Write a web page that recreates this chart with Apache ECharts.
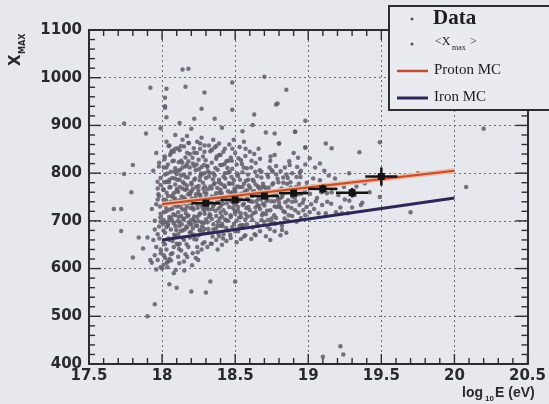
<!DOCTYPE html>
<html><head><meta charset="utf-8">
<script src="https://cdn.jsdelivr.net/npm/echarts@6/dist/echarts.min.js"></script>
<style>html,body{margin:0;padding:0;background:#e6e8ee;}#c{width:549px;height:404px;}</style>
</head><body><div id="c"></div><script>
// Axis ranges [min, max, major interval, minor step]
const xRange = [17.5, 20.5, 0.5, 0.1];
const yRange = [400, 1100, 100, 20];

// Scatter "Data" points [log10E, Xmax]
const dataPoints = [
[17.93,612],[17.95,628],[17.96,645],[17.94,660],[17.97,672],[17.98,688],[17.95,700],[17.99,715],[17.96,735],[17.98,752],[17.97,768],[17.99,790],[17.94,805],[17.98,822],[17.96,598],[17.99,603],[17.97,618],[17.99,640],[17.95,682],[17.99,698],[17.93,725],[17.97,745],[17.99,775],[17.96,842],
[18.01,608],[18.02,622],[18.04,615],[18.06,630],[18.03,640],[18.08,645],[18.01,655],[18.05,660],[18.09,668],[18.02,675],[18.06,682],[18.04,690],[18.08,695],[18.01,702],[18.05,708],[18.09,712],[18.03,720],[18.07,726],[18.02,733],[18.06,740],[18.09,746],[18.04,752],[18.08,758],[18.01,765],[18.05,770],[18.09,776],[18.03,782],[18.07,790],[18.02,797],[18.06,803],[18.09,810],[18.04,818],[18.08,826],[18.02,835],[18.06,842],[18.09,851],[18.05,858],[18.03,866],[18.07,632],[18.1,652],[18.03,687],[18.07,700],[18.1,730],[18.01,745],[18.05,786],[18.1,798],[18.03,812],[18.08,845],[18.05,620],[18.01,680],
[18.11,625],[18.13,638],[18.16,630],[18.18,645],[18.12,652],[18.15,660],[18.19,665],[18.11,672],[18.14,680],[18.17,686],[18.2,692],[18.12,698],[18.15,705],[18.18,711],[18.11,718],[18.14,724],[18.17,730],[18.2,737],[18.12,743],[18.15,749],[18.19,755],[18.11,761],[18.14,768],[18.17,774],[18.2,780],[18.12,786],[18.16,792],[18.19,799],[18.11,805],[18.14,812],[18.17,818],[18.13,826],[18.16,833],[18.19,840],[18.12,848],[18.15,856],[18.18,863],[18.14,870],[18.17,878],[18.11,650],[18.19,676],[18.13,710],[18.16,745],[18.2,762],[18.13,795],[18.18,825],[18.15,615],[18.2,702],
[18.21,632],[18.24,645],[18.27,640],[18.29,655],[18.22,662],[18.25,670],[18.28,676],[18.21,684],[18.24,690],[18.27,697],[18.3,703],[18.22,709],[18.26,716],[18.29,722],[18.21,728],[18.24,735],[18.28,741],[18.23,748],[18.26,754],[18.29,760],[18.21,767],[18.25,773],[18.28,780],[18.22,786],[18.26,793],[18.29,800],[18.23,806],[18.27,813],[18.21,820],[18.25,828],[18.28,835],[18.22,843],[18.26,851],[18.29,858],[18.24,866],[18.27,874],[18.23,690],[18.3,730],[18.25,757],[18.3,790],[18.22,815],[18.26,680],[18.29,845],[18.23,622],
[18.31,645],[18.34,652],[18.37,660],[18.39,668],[18.32,675],[18.35,682],[18.38,690],[18.31,697],[18.34,704],[18.37,710],[18.4,717],[18.32,724],[18.35,731],[18.38,738],[18.31,744],[18.34,751],[18.37,758],[18.4,765],[18.33,772],[18.36,779],[18.39,786],[18.32,793],[18.35,800],[18.38,807],[18.31,815],[18.34,822],[18.37,830],[18.4,838],[18.33,846],[18.36,854],[18.39,862],[18.35,870],[18.38,640],[18.33,712],[18.39,745],[18.36,795],[18.32,858],[18.4,690],
[18.41,650],[18.44,658],[18.47,664],[18.42,672],[18.45,680],[18.48,687],[18.41,694],[18.44,701],[18.47,708],[18.5,715],[18.42,722],[18.46,729],[18.49,736],[18.41,743],[18.44,750],[18.47,757],[18.5,764],[18.43,771],[18.46,778],[18.49,786],[18.42,793],[18.45,801],[18.48,809],[18.41,817],[18.44,825],[18.47,833],[18.5,842],[18.43,851],[18.46,860],[18.49,870],[18.45,700],[18.48,760],[18.43,800],[18.5,678],
[18.51,655],[18.54,662],[18.57,670],[18.52,678],[18.55,686],[18.58,693],[18.51,700],[18.54,708],[18.57,715],[18.6,722],[18.52,729],[18.56,736],[18.59,743],[18.51,750],[18.54,757],[18.58,764],[18.53,771],[18.56,778],[18.59,786],[18.52,794],[18.55,802],[18.58,810],[18.51,818],[18.54,827],[18.57,836],[18.6,845],[18.53,855],[18.56,866],[18.58,748],[18.53,690],
[18.61,662],[18.64,670],[18.67,678],[18.62,686],[18.65,694],[18.68,702],[18.61,710],[18.64,718],[18.67,725],[18.7,732],[18.62,740],[18.66,747],[18.69,755],[18.63,762],[18.66,770],[18.69,778],[18.62,786],[18.65,794],[18.68,803],[18.61,812],[18.64,821],[18.67,830],[18.63,840],[18.66,851],[18.69,716],[18.64,776],
[18.71,668],[18.74,660],[18.77,678],[18.72,688],[18.75,697],[18.78,706],[18.71,714],[18.74,722],[18.77,730],[18.8,738],[18.72,746],[18.76,754],[18.79,762],[18.73,770],[18.76,779],[18.79,788],[18.72,797],[18.75,806],[18.78,815],[18.74,826],[18.77,838],[18.8,862],
[18.81,670],[18.85,675],[18.82,690],[18.86,700],[18.89,710],[18.83,720],[18.86,730],[18.89,740],[18.82,750],[18.85,760],[18.88,770],[18.83,780],[18.86,790],[18.89,800],[18.84,812],[18.87,825],[18.9,842],[18.84,718],
[18.92,698],[18.95,706],[18.98,712],[18.91,722],[18.94,733],[18.97,745],[18.93,756],[18.96,768],[18.99,780],[18.92,792],[18.95,805],[18.98,818],[18.93,832],[18.98,854],[18.91,887],
[19.01,718],[19.04,725],[19.07,716],[19.02,735],[19.06,748],[19.09,760],[19.03,772],[19.08,785],[19.01,831],[19.08,820],[19.12,716],[19.13,740],[19.16,760],[19.19,718],[19.14,795],[19.12,862],[19.16,852],[19.18,775],[19.11,805],
[19.23,716],[19.27,716],[19.25,745],[19.3,728],[19.36,733],[19.33,772],[19.28,800],[19.35,844],[19.42,760],[19.49,750],[19.45,790],[19.22,728],[19.37,738],
[19.49,865],[19.7,718],[19.75,800],[20.08,771],[20.2,893],[19.22,437],[19.24,420],[19.1,415],
[17.67,725],[17.72,725],[17.79,760],[17.72,679],[17.84,665],[17.9,665],[17.87,642],[17.8,623],[17.92,618],[17.74,798],[17.8,817],[17.89,883],[17.74,904],[17.99,894],[18.02,940],[18.03,917],[18.22,914],[18.2,893],[18.36,914],
[17.95,525],[17.9,500],[18.05,567],[18.08,590],[18.2,552],[18.3,550],[18.33,573],[18.5,573],[18.1,560],[18.0,600],
[18.03,977],[17.92,979],[18.02,958],[18.02,937],[18.16,981],[18.14,1017],[18.18,1019],[18.29,969],[18.48,990],[18.7,1002],[18.78,944],[18.63,923],[18.09,880],[18.85,975],[18.79,946],[18.91,887],[18.77,883],[18.8,862],[18.98,910],[18.98,854],
[18.013,718],[18.027,743],[18.041,694],[18.058,771],[18.072,658],[18.086,803],[18.094,737],[18.016,829],[18.033,612],[18.047,781],[18.062,706],[18.078,749],[18.091,689],[18.008,766],[17.988,707],[17.974,756],[17.982,663],[17.991,632],[17.969,782],[17.978,814],[17.986,730],[18.019,651],[18.036,799],[18.053,724],[18.067,847],[18.083,671],[18.098,762],[18.024,697],[18.044,857],[18.069,737],
[18.107,733],[18.118,689],[18.124,807],[18.133,751],[18.141,664],[18.152,778],[18.163,716],[18.171,843],[18.182,697],[18.193,759],[18.104,786],[18.116,641],[18.127,729],[18.138,822],[18.146,703],[18.157,765],[18.168,651],[18.176,791],[18.187,738],[18.198,676],[18.109,852],[18.121,771],[18.135,693],[18.149,737],[18.161,814],[18.173,709],[18.184,863],[18.195,727],[18.113,708],[18.154,682],
[18.204,747],[18.213,703],[18.226,789],[18.235,661],[18.243,727],[18.252,808],[18.264,744],[18.273,688],[18.282,768],[18.291,715],[18.208,832],[18.219,671],[18.231,756],[18.247,699],[18.258,785],[18.269,732],[18.277,652],[18.286,817],[18.297,749],[18.215,724],[18.238,842],[18.255,713],[18.272,797],[18.289,683],[18.233,771],[18.261,862],[18.244,634],[18.281,739],
[18.305,728],[18.316,683],[18.324,801],[18.337,742],[18.345,667],[18.353,776],[18.366,721],[18.374,835],[18.382,698],[18.393,759],[18.309,813],[18.321,708],[18.333,652],[18.348,787],[18.357,735],[18.369,684],[18.378,769],[18.387,726],[18.398,817],[18.312,766],[18.341,849],[18.362,751],[18.384,674],[18.328,739],
[18.402,731],[18.414,689],[18.425,774],[18.436,716],[18.447,811],[18.455,746],[18.466,671],[18.474,792],[18.486,727],[18.495,768],[18.408,758],[18.419,845],[18.431,703],[18.443,737],[18.458,779],[18.469,712],[18.481,851],[18.492,694],[18.417,663],[18.452,826],
[18.505,736],[18.516,772],[18.527,707],[18.538,748],[18.546,819],[18.557,691],[18.565,761],[18.576,727],[18.588,797],[18.596,742],[18.512,682],[18.533,786],[18.552,733],[18.571,851],[18.584,709],[18.523,831],[18.561,667],[18.593,774],
[18.606,741],[18.618,702],[18.627,783],[18.639,728],[18.648,757],[18.657,689],[18.668,806],[18.677,745],[18.688,771],[18.697,698],[18.612,826],[18.633,672],[18.652,733],[18.672,764],[18.691,736],
[18.705,749],[18.718,721],[18.726,792],[18.737,683],[18.746,741],[18.758,803],[18.767,712],[18.778,758],[18.786,729],[18.796,781],[18.713,767],[18.742,835],[18.773,694],
[18.806,747],[18.814,727],[18.829,791],[18.838,705],[18.847,765],[18.862,743],[18.873,817],[18.884,727],[18.893,761],[18.821,681],[18.856,778],
[18.907,749],[18.918,771],[18.933,717],[18.947,792],[18.962,738],[18.977,761],[18.988,729],[18.924,813],
[19.012,757],[19.034,789],[19.052,741],[19.073,770],[19.095,733],[19.047,812],[19.128,758],[19.157,736],[19.183,789],[19.206,754],[19.244,771],[19.281,742],[19.318,754],[19.387,779],
[18.012,628],[18.037,603],[18.061,617],[18.118,611],[18.172,624],[18.247,618],[18.152,596],[18.205,607],[18.093,597],
[18.41,895],[18.55,888],[18.62,901],[18.48,933],[18.71,885],[18.12,905],[18.27,935],
[18.006,694],[18.018,781],[18.029,726],[18.043,663],[18.055,838],[18.064,752],[18.077,714],[18.088,789],[18.097,681],[18.011,812],[18.031,759],[18.049,702],[18.071,825],[18.084,734],
[18.102,767],[18.114,823],[18.126,679],[18.137,741],[18.148,797],[18.159,724],[18.166,688],[18.178,756],[18.189,812],[18.197,741],[18.106,699],[18.129,857],[18.143,781],[18.169,766],[18.191,694],
[18.202,776],[18.211,739],[18.223,698],[18.236,818],[18.248,764],[18.257,681],[18.266,799],[18.279,726],[18.293,772],[18.217,852],[18.241,708],[18.262,752],[18.284,695],[18.298,827],
[18.303,757],[18.314,804],[18.326,714],[18.339,768],[18.351,693],[18.364,811],[18.376,743],[18.389,781],[18.395,705],[18.318,739],[18.343,725],[18.371,857],[18.391,838],
[18.404,777],[18.416,736],[18.428,819],[18.439,685],[18.451,762],[18.462,803],[18.473,741],[18.484,778],[18.497,721],[18.411,709],[18.433,789],[18.477,826],
[18.503,758],[18.514,799],[18.526,742],[18.537,716],[18.549,771],[18.558,812],[18.569,703],[18.581,756],[18.591,729],[18.519,721],[18.543,691],[18.574,784],
[18.603,769],[18.615,752],[18.624,716],[18.637,803],[18.646,741],[18.658,772],[18.663,731],[18.679,791],[18.694,757],[18.621,761],[18.684,712],
[18.702,771],[18.715,741],[18.729,763],[18.735,812],[18.749,705],[18.755,776],[18.768,741],[18.781,797],[18.792,746],[18.724,702],
[18.803,731],[18.817,768],[18.826,755],[18.843,739],[18.852,797],[18.867,712],[18.878,781],[18.891,751],[18.811,804],
[18.904,767],[18.914,741],[18.936,778],[18.951,757],[18.966,722],[18.984,771],[18.942,801]
];

// <Xmax> binned means
const meanX    = [18.3, 18.5, 18.7, 18.9, 19.1, 19.3, 19.5];
const meanY    = [737, 744, 752, 758, 767, 759, 793];
const meanXerr = [0.1, 0.1, 0.1, 0.1, 0.1, 0.11, 0.11];
const meanYerr = [5, 5, 6, 7, 9, 10, 19];

// Monte Carlo predictions
const protonMC = [[18, 735], [20, 805]];
const ironMC   = [[18, 660], [20, 748]];

const meanData = meanX.map((x, i) => [x, meanY[i], meanXerr[i], meanYerr[i]]);

const axisColor = '#2e2e30';
const labelFont = {color: '#2a2a2c', fontWeight: 'bold', fontSize: 15, fontFamily: 'DejaVu Sans, Liberation Sans, sans-serif'};

function mkAxis(extra) {
  return Object.assign({
    type: 'value',
    axisLine: {show: true, onZero: false, lineStyle: {color: axisColor, width: 2}},
    axisTick: {show: false},
    minorTick: {show: false}
  }, extra);
}
const gridLine = {show: true, lineStyle: {color: '#5a5a60', type: [2, 3], width: 1, opacity: 0.85}};

// frame ticks (ROOT style, pointing inward on all four sides), placed through the axes' scales
function frameTicks(params, api) {
  const ch = [];
  const MAJ = 10, MIN = 6;
  const st = {stroke: axisColor, lineWidth: 1.4};
  const nx = Math.round((xRange[1] - xRange[0]) / xRange[3]);
  for (let i = 0; i <= nx; i++) {
    const v = xRange[0] + i * xRange[3];
    const len = (i % Math.round(xRange[2] / xRange[3]) === 0) ? MAJ : MIN;
    const b = api.coord([v, yRange[0]]), t = api.coord([v, yRange[1]]);
    ch.push({type: 'line', shape: {x1: b[0], y1: b[1], x2: b[0], y2: b[1] - len}, style: st});
    ch.push({type: 'line', shape: {x1: t[0], y1: t[1], x2: t[0], y2: t[1] + len}, style: st});
  }
  const ny = Math.round((yRange[1] - yRange[0]) / yRange[3]);
  for (let i = 0; i <= ny; i++) {
    const v = yRange[0] + i * yRange[3];
    const len = (i % Math.round(yRange[2] / yRange[3]) === 0) ? MAJ + 2 : MIN;
    const l = api.coord([xRange[0], v]), r = api.coord([xRange[1], v]);
    ch.push({type: 'line', shape: {x1: l[0], y1: l[1], x2: l[0] + len, y2: l[1]}, style: st});
    ch.push({type: 'line', shape: {x1: r[0], y1: r[1], x2: r[0] - len, y2: r[1]}, style: st});
  }
  return {type: 'group', children: ch};
}

const chart = echarts.init(document.getElementById('c'), null, {renderer: 'canvas'});
chart.setOption({
  backgroundColor: '#e6e8ee',
  animation: false,
  grid: {left: 89, right: 14, top: 30, bottom: 40},
  xAxis: [
    mkAxis({min: xRange[0], max: xRange[1], interval: xRange[2], position: 'bottom',
      axisLabel: Object.assign({margin: 5, formatter: v => String(v)}, labelFont), splitLine: gridLine}),
    mkAxis({min: xRange[0], max: xRange[1], interval: xRange[2], position: 'top',
      axisLabel: {show: false}, splitLine: {show: false}})
  ],
  yAxis: [
    mkAxis({min: yRange[0], max: yRange[1], interval: yRange[2], position: 'left',
      axisLabel: Object.assign({margin: 7, formatter: v => String(v)}, labelFont), splitLine: gridLine}),
    mkAxis({min: yRange[0], max: yRange[1], interval: yRange[2], position: 'right',
      axisLabel: {show: false}, splitLine: {show: false}})
  ],
  series: [
    {
      type: 'custom', name: 'ticks', data: [[xRange[0], yRange[0]]], z: 1, silent: true,
      encode: {x: 0, y: 1}, renderItem: frameTicks
    },
    {
      type: 'scatter', name: 'Data', data: dataPoints, symbol: 'circle', symbolSize: 4.5,
      itemStyle: {color: '#625d67', opacity: 0.85}, z: 2
    },
    {
      type: 'line', name: 'Proton halo', data: protonMC, symbol: 'none',
      lineStyle: {color: '#f0b8a0', width: 5}, z: 3
    },
    {
      type: 'line', name: 'Proton MC', data: protonMC, symbol: 'none',
      lineStyle: {color: '#c0502c', width: 2.2}, z: 4
    },
    {
      type: 'line', name: 'Iron MC', data: ironMC, symbol: 'none',
      lineStyle: {color: '#2c2756', width: 3}, z: 4
    },
    {
      type: 'custom', name: '<Xmax>', data: meanData, z: 5,
      encode: {x: 0, y: 1},
      renderItem: function (params, api) {
        const x = api.value(0), y = api.value(1), xe = api.value(2), ye = api.value(3);
        const c = api.coord([x, y]);
        const l = api.coord([x - xe, y]);
        const r = api.coord([x + xe, y]);
        const t = api.coord([x, y + ye]);
        const b = api.coord([x, y - ye]);
        return {type: 'group', children: [
          {type: 'line', shape: {x1: l[0], y1: l[1], x2: r[0], y2: r[1]}, style: {stroke: '#141414', lineWidth: 2.5}},
          {type: 'line', shape: {x1: t[0], y1: t[1], x2: b[0], y2: b[1]}, style: {stroke: '#141414', lineWidth: 2.5}},
          {type: 'rect', shape: {x: c[0] - 3.5, y: c[1] - 3.5, width: 7, height: 7}, style: {fill: '#141414'}}
        ]};
      }
    }
  ],
  graphic: [
    {type: 'text', x: 9, y: 66, rotation: Math.PI / 2, z: 100,
     style: {text: 'X', font: 'bold 15px DejaVu Sans, Liberation Sans, sans-serif', fill: '#2a2a2c'}},
    {type: 'text', x: 19, y: 54, rotation: Math.PI / 2, z: 100,
     style: {text: 'MAX', font: 'bold 8px DejaVu Sans, Liberation Sans, sans-serif', fill: '#2a2a2c'}},
    {type: 'text', x: 462, y: 386, z: 100,
     style: {text: 'log', font: 'bold 14px Liberation Sans, Arial, sans-serif', fill: '#2a2a2c'}},
    {type: 'text', x: 485, y: 395, z: 100,
     style: {text: '10', font: 'bold 8px Liberation Sans, Arial, sans-serif', fill: '#2a2a2c'}},
    {type: 'text', x: 495, y: 386, z: 100,
     style: {text: 'E (eV)', font: 'bold 14px Liberation Sans, Arial, sans-serif', fill: '#2a2a2c'}},
    {type: 'rect', z: 100, shape: {x: 389, y: 6, width: 175, height: 104},
     style: {fill: '#e9ebf0', stroke: '#2e2e30', lineWidth: 2}},
    {type: 'circle', z: 101, shape: {cx: 412, cy: 19, r: 1.5}, style: {fill: '#555'}},
    {type: 'text', z: 101, x: 433, y: 8,
     style: {text: 'Data', font: 'bold 21px Liberation Serif, Times New Roman, serif', fill: '#1e1e20'}},
    {type: 'circle', z: 101, shape: {cx: 412, cy: 44, r: 1.5}, style: {fill: '#555'}},
    {type: 'text', z: 101, x: 435, y: 36,
     style: {text: '<X', font: '12px Liberation Serif, Times New Roman, serif', fill: '#1e1e20'}},
    {type: 'text', z: 101, x: 452, y: 44,
     style: {text: 'max', font: '8px Liberation Serif, Times New Roman, serif', fill: '#1e1e20'}},
    {type: 'text', z: 101, x: 470, y: 36,
     style: {text: '>', font: '12px Liberation Serif, Times New Roman, serif', fill: '#1e1e20'}},
    {type: 'line', z: 101, shape: {x1: 397, y1: 71, x2: 428, y2: 71}, style: {stroke: '#c0502c', lineWidth: 2.5}},
    {type: 'text', z: 101, x: 434, y: 63,
     style: {text: 'Proton MC', font: '15px Liberation Serif, Times New Roman, serif', fill: '#1e1e20'}},
    {type: 'line', z: 101, shape: {x1: 397, y1: 98, x2: 428, y2: 98}, style: {stroke: '#2c2756', lineWidth: 3}},
    {type: 'text', z: 101, x: 434, y: 90,
     style: {text: 'Iron MC', font: '15px Liberation Serif, Times New Roman, serif', fill: '#1e1e20'}}
  ]
});
</script></body></html>
